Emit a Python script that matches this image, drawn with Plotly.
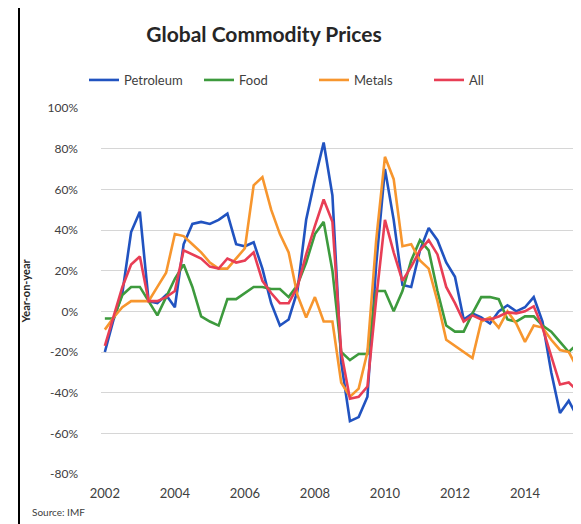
import plotly.graph_objects as go

# Quarterly observations, 2002Q1 .. 2015Q3 (year-on-year % change)
start_year = 2002
n_quarters = 55
quarters = [start_year + i / 4 for i in range(n_quarters)]

petroleum = [-20, -4, 9, 39, 49, 5, 4, 8, 2, 33, 43, 44, 43, 45, 48, 33, 32, 34, 21, 4,
             -7, -4, 10, 45, 65, 83, 57, -25, -54, -52, -42, 23, 70, 45, 13, 12, 30, 41, 35, 24,
             17, -4, -1, -3, -6, 0, 3, 0, 2, 7, -5, -30, -50, -44, -52]
food = [-3.5, -3.5, 8, 12, 12, 5, -2, 7, 16, 23, 12, -2.5, -5, -7, 6, 6, 9, 12, 12, 11,
        11, 7, 13, 24, 38, 44, 20, -20, -24, -21, -21, 10, 10, 0, 10, 25, 35, 30, 10, -7,
        -10, -10, -1, 7, 7, 6, -4, -5, -2.5, -2.5, -7, -10, -15, -20, -16]
metals = [-9, -3, 2, 5, 5, 5, 12, 19, 38, 37, 33, 29, 24, 21, 21, 26, 31, 62, 66, 50,
          38, 29, 8, -3, 7, -5, -5, -35, -42, -38, -20, 35, 76, 65, 32, 33, 25, 21, 5, -14,
          -17, -20, -23, -5, -3, -8, 0, -6, -15, -7, -8, -14, -19, -20, -28]
all_commod = [-17, -3, 12, 23, 27, 5, 5, 7, 10, 30, 28, 26, 22, 21, 26, 24, 25, 29, 15, 9,
              4, 4, 12, 28, 42, 55, 44, -20, -43, -42, -37, 6, 45, 29, 15, 22, 30, 35, 28, 12,
              4, -5, -2, -4, -4, -2.5, -0.5, -1, 0, 2.5, -8, -22, -36, -35, -39]

series_names = ["Petroleum", "Food", "Metals", "All"]
series_values = [petroleum, food, metals, all_commod]
series_colors = ["#2153c0", "#3d9a3d", "#f7962e", "#e83e55"]

y_ticks = [-80, -60, -40, -20, 0, 20, 40, 60, 80, 100]
y_tick_labels = [f"{v}%" for v in y_ticks]
x_ticks = [2002, 2004, 2006, 2008, 2010, 2012, 2014]
x_tick_labels = [str(v) for v in x_ticks]

fig = go.Figure()
for name, vals, col in zip(series_names, series_values, series_colors):
    fig.add_trace(go.Scatter(x=quarters, y=vals, mode="lines", name=name,
                             line=dict(color=col, width=2.6)))

W, H = 581, 524
ml, mr, mt, mb = 93, 8, 100, 58
pw = W - ml - mr
ph = H - mt - mb

fig.update_layout(
    width=W, height=H,
    margin=dict(l=ml, r=mr, t=mt, b=mb, autoexpand=False),
    paper_bgcolor="white", plot_bgcolor="white",
    font=dict(family="Lato, Open Sans, sans-serif", color="#404040"),
    title=dict(text="<b>Global Commodity Prices</b>", x=256 / W, xanchor="center",
               y=1 - 27 / H, yanchor="middle", xref="container", yref="container",
               font=dict(size=21, color="#262626")),
    showlegend=True,
    legend=dict(orientation="h", x=(76 - ml) / pw, xanchor="left",
                y=1 + 28 / ph, yanchor="middle", font=dict(size=13, color="#404040"),
                entrywidth=70, entrywidthmode="pixels", bgcolor="rgba(0,0,0,0)",
                itemwidth=30, tracegroupgap=0),
    xaxis=dict(range=[2001.89, 2015.6], tickvals=x_ticks, ticktext=x_tick_labels,
               showgrid=False, zeroline=False, showline=False, ticks="",
               ticklabelstandoff=10, tickfont=dict(size=13, color="#404040")),
    yaxis=dict(range=[-80, 100], tickvals=y_ticks, ticktext=y_tick_labels,
               showgrid=True, gridcolor="#d6d6d6", gridwidth=1, zeroline=False,
               showline=False, ticks="", ticklabelstandoff=22,
               tickfont=dict(size=12, color="#404040"),
               title=dict(text="<b>Year-on-year</b>", standoff=14,
                          font=dict(size=11, color="#262626"))),
)

fig.add_shape(type="line", xref="paper", yref="paper",
              x0=(11 - ml) / pw, x1=(11 - ml) / pw, y0=-0.2, y1=1.3,
              line=dict(color="black", width=2))

fig.add_annotation(text="Source: IMF", xref="paper", yref="paper",
                   x=(22 - ml) / pw, y=-(496 - (mt + ph)) / ph,
                   xanchor="left", yanchor="top", showarrow=False,
                   font=dict(size=10, color="#404040"))

fig.write_html("out.html")
